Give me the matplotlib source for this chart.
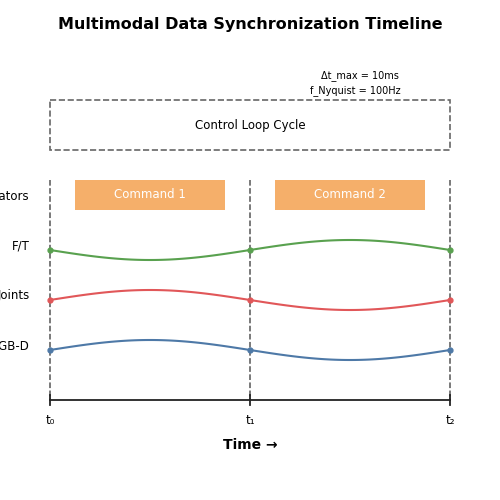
import numpy as np
import matplotlib
matplotlib.use("Agg")
import matplotlib.pyplot as plt
from matplotlib.patches import Rectangle

# data
times = [0, 1, 2]
time_labels = ["t₀", "t₁", "t₂"]
rows = ["Actuators", "F/T", "Joints", "RGB-D"]
row_y = [195, 245, 295, 345]          # row centres (px, top-down)
signal_rows = ["F/T", "Joints", "RGB-D"]
signal_colors = ["#59a14f", "#e15759", "#4e79a7"]
signal_base = [250, 300, 350]
# bulge of each segment between timestamps (+ = downward)
signal_bulge = [[10, -10], [-10, 10], [-10, 10]]
commands = ["Command 1", "Command 2"]
command_span = [(0.125, 0.875), (1.125, 1.875)]

def px(t):
    return 50 + 200 * t

fig = plt.figure(figsize=(5, 5), dpi=100)
ax = fig.add_axes([0, 0, 1, 1])
ax.set_xlim(0, 500); ax.set_ylim(500, 0); ax.axis("off")

fig.text(0.5, 0.95, "Multimodal Data Synchronization Timeline", ha="center",
         va="center", fontsize=11.5, fontweight="bold")
ax.text(360, 76, "Δt_max = 10ms", ha="center", va="center", fontsize=7)
ax.text(355, 91, "f_Nyquist = 100Hz", ha="center", va="center", fontsize=7)

ax.add_patch(Rectangle((50, 100), 400, 50, fill=False, ls="--", ec="#666666", lw=1.2))
ax.text(250, 126, "Control Loop Cycle", ha="center", va="center", fontsize=8.5)

for t in times:
    ax.plot([px(t), px(t)], [180, 400], ls="--", color="#555555", lw=1.1)

for name, y in zip(rows, row_y):
    ax.text(30, y + 1, name, ha="right", va="center", fontsize=8.5)

for name, (a, b) in zip(commands, command_span):
    ax.add_patch(Rectangle((px(a), 180), px(b) - px(a), 30, color="#f28e2b",
                           alpha=0.7, lw=0))
    ax.text((px(a) + px(b)) / 2, 195, name, ha="center", va="center",
            fontsize=8.5, color="white")

for color, base, bulge in zip(signal_colors, signal_base, signal_bulge):
    for i, amp in enumerate(bulge):
        s = np.linspace(0, 1, 60)
        ax.plot(px(times[i] + s), base + amp * np.sin(np.pi * s), color=color, lw=1.5)
    ax.plot([px(t) for t in times], [base] * len(times), "o", color=color, ms=3.5)

ax.plot([px(0), px(2)], [400, 400], color="#222222", lw=1.3)
for t, lab in zip(times, time_labels):
    ax.plot([px(t), px(t)], [395, 405], color="#222222", lw=1.3)
    ax.text(px(t), 421, lab, ha="center", va="center", fontsize=8.5)
ax.text(250, 445, "Time →", ha="center", va="center", fontsize=10, fontweight="bold")

fig.savefig("out.png", dpi=100)
